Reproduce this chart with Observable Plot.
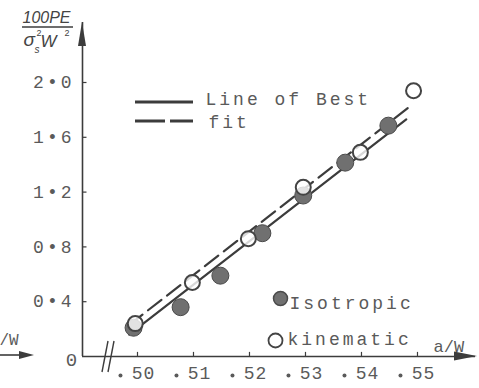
<!DOCTYPE html>
<html><head><meta charset="utf-8">
<script src="https://cdn.jsdelivr.net/npm/d3@7"></script>
<script src="https://cdn.jsdelivr.net/npm/@observablehq/plot@0.6"></script>
<style>body{margin:0;background:#fff}</style>
</head><body><div id="chart"></div>
<script>
// Data
const awIso = [0.4993, 0.5077, 0.5148, 0.5223, 0.5296, 0.5371, 0.5448];
const peIso = [0.21, 0.36, 0.59, 0.90, 1.175, 1.415, 1.685];
const awKin = [0.4996, 0.5098, 0.5198, 0.5296, 0.5398, 0.5493];
const peKin = [0.24, 0.54, 0.86, 1.235, 1.49, 1.94];
const fitIsoAw = [0.4985, 0.548];
const fitIsoPe = [0.16, 1.73];
const fitKinAw = [0.4985, 0.5485];
const fitKinPe = [0.23, 1.82];
const xTicks = [0.50, 0.51, 0.52, 0.53, 0.54, 0.55];
const xTickLabels = [".50", ".51", ".52", ".53", ".54", ".55"];
const yTicks = [0.4, 0.8, 1.2, 1.6, 2.0];
const yTickLabels = ["0.4", "0.8", "1.2", "1.6", "2.0"];

const iso = awIso.map((a, i) => ({a, p: peIso[i]}));
const kin = awKin.map((a, i) => ({a, p: peKin[i]}));
const fitIso = fitIsoAw.map((a, i) => ({a, p: fitIsoPe[i]}));
const fitKin = fitKinAw.map((a, i) => ({a, p: fitKinPe[i]}));

const X0 = 0.49018, X1 = 0.56036;
const ink = "#3c3c3c", txt = "#5a5a5a";
const mono = "'Liberation Mono', 'DejaVu Sans Mono', monospace";
const hand = "'Liberation Sans', 'DejaVu Sans', sans-serif";
const ann = (s, dx, dy, o = {}) => Plot.text([s], Object.assign({frameAnchor: "top-left", text: d => d, dx, dy, textAnchor: "start", lineAnchor: "middle", fontSize: 18, fill: txt}, o));
const yLab = (d, i) => yTickLabels[i].replace(".", "\u2022");

const chart = Plot.plot({
  width: 479, height: 388,
  marginLeft: 82, marginRight: 4, marginTop: 22, marginBottom: 32,
  x: {domain: [X0, X1], axis: null},
  y: {domain: [0, 2.438], axis: null},
  style: {fontFamily: mono, background: "#fff", overflow: "visible"},
  marks: [
    Plot.ruleY([0], {stroke: ink, strokeWidth: 1.6}),
    Plot.ruleX([X0], {stroke: ink, strokeWidth: 1.6}),
    Plot.ruleX(xTicks, {x: d => d, y1: 0, y2: 0.03, stroke: ink, strokeWidth: 1.2}),
    Plot.ruleY(yTicks, {y: d => d, x1: X0, x2: X0 + 0.0008, stroke: ink, strokeWidth: 1.2}),
    Plot.text(xTicks, {x: d => d, y: 0, text: (d, i) => xTickLabels[i].slice(1), dx: 6, dy: 17, fontSize: 18, fill: txt}),
    Plot.dot(xTicks, {x: d => d, y: 0, dx: -17, dy: 19, r: 2, fill: txt}),
    Plot.text(yTicks, {x: X0, y: d => d, text: yLab, textAnchor: "end", dx: -8, fontSize: 18, fill: txt}),
    Plot.text(["0"], {x: X0, y: 0, text: d => d, dx: -11, dy: 3, fontSize: 19, fill: txt}),
    // fits
    Plot.line(fitIso, {x: "a", y: "p", stroke: ink, strokeWidth: 2.2}),
    Plot.line(fitKin, {x: "a", y: "p", stroke: ink, strokeWidth: 2.2, strokeDasharray: "17,7"}),
    // points
    Plot.dot(iso, {x: "a", y: "p", r: 8.5, fill: "#707070", stroke: "#4a4a4a", strokeWidth: 1}),
    Plot.dot(kin, {x: "a", y: "p", r: 7.5, fill: "#fff", fillOpacity: 0.8, stroke: "#444", strokeWidth: 2}),
    // legends
    ann("Line of Best", 123, 77),
    ann("fit", 126, 100),
    Plot.dot([0], {frameAnchor: "top-left", dx: 198, dy: 276, r: 7, fill: "#707070", stroke: "#4a4a4a"}),
    Plot.dot([0], {frameAnchor: "top-left", dx: 193, dy: 318, r: 7, fill: "#fff", stroke: "#444", strokeWidth: 1.8}),
    ann("Isotropic", 207, 281),
    ann("kinematic", 205, 317),
    ann("a/W", 351, 324, {fontSize: 17}),
    ann("/W", -83, 317, {fontSize: 16}),
    // y-axis title
    ann("100PE", -60, -5, {fontSize: 16, fontStyle: "italic", fontFamily: hand, fill: "#444"}),
    ann("\u03c3", -59, 17, {fontSize: 19, fontStyle: "italic", fontFamily: hand, fill: "#444"}),
    ann("2", -46, 11, {fontSize: 9, fontFamily: hand, fill: "#444"}),
    ann("s", -48, 27, {fontSize: 10, fontStyle: "italic", fontFamily: hand, fill: "#444"}),
    ann("W", -42, 19, {fontSize: 17, fontStyle: "italic", fontFamily: hand, fill: "#444"}),
    ann("2", -18, 11, {fontSize: 9, fontFamily: hand, fill: "#444"})
  ]
});
document.getElementById("chart").appendChild(chart);

const svg = d3.select(chart);
const spaced = new Set(["Line of Best", "fit", "Isotropic", "kinematic", ...yTicks.map(yLab)]);
const digits = new Set(xTickLabels.map(l => l.slice(1)));
svg.selectAll("text").each(function () {
  const t = this.textContent;
  if (spaced.has(t)) this.setAttribute("letter-spacing", 3);
  else if (digits.has(t)) this.setAttribute("letter-spacing", 1);
});
const g = svg.append("g").attr("fill", "none").attr("stroke", ink);
// fraction bar
g.append("line").attr("x1", 22).attr("x2", 73).attr("y1", 27).attr("y2", 27).attr("stroke-width", 1.4);
// axis arrowheads
g.append("path").attr("d", "M82,22L78,46L86,46Z").attr("fill", ink).attr("stroke", "none");
g.append("path").attr("d", "M477,356L454,351.5L454,360.5Z").attr("fill", ink).attr("stroke", "none");
// left arrow
g.append("line").attr("x1", 0).attr("x2", 24).attr("y1", 355).attr("y2", 355).attr("stroke-width", 1.6);
g.append("path").attr("d", "M34,355L19,351L19,359Z").attr("fill", ink).attr("stroke", "none");
// axis break
g.append("line").attr("x1", 102).attr("y1", 372).attr("x2", 108).attr("y2", 341).attr("stroke-width", 1.4);
g.append("line").attr("x1", 108).attr("y1", 372).attr("x2", 114).attr("y2", 341).attr("stroke-width", 1.4);
// legend swatches
g.append("line").attr("x1", 135).attr("x2", 193).attr("y1", 102).attr("y2", 102).attr("stroke-width", 3);
g.append("line").attr("x1", 135).attr("x2", 193).attr("y1", 121).attr("y2", 121).attr("stroke-width", 3).attr("stroke-dasharray", "30,5");
</script></body></html>
